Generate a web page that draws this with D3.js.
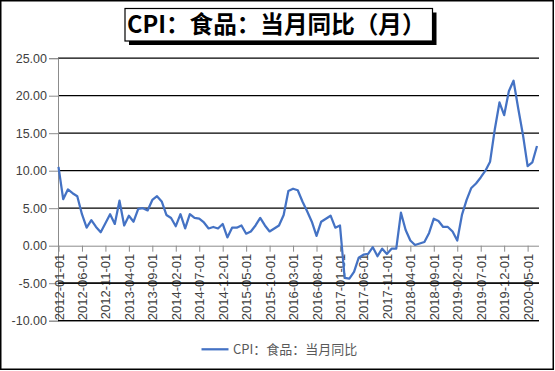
<!DOCTYPE html>
<html>
<head>
<meta charset="utf-8">
<script src="https://cdn.jsdelivr.net/npm/d3@7"></script>
<style>
  body { margin: 0; background: #fff; }
  svg { display: block; }
</style>
</head>
<body>
<svg id="chart" width="555" height="371"></svg>
<script>
// CPI food, yoy %, monthly from 2012-01 to 2020-07
const values = [
  10.5, 6.2, 7.5, 7.0, 6.6, 4.2, 2.4, 3.4, 2.5, 1.8, 3.0, 4.2,   // 2012
  2.9, 6.0, 2.7, 4.0, 3.2, 4.9, 5.0, 4.7, 6.1, 6.6, 5.9, 4.1,    // 2013
  3.7, 2.6, 4.2, 2.3, 4.2, 3.7, 3.6, 3.1, 2.3, 2.5, 2.3, 2.9,    // 2014
  1.1, 2.4, 2.4, 2.7, 1.6, 1.9, 2.7, 3.7, 2.7, 1.9, 2.3, 2.7,    // 2015
  4.1, 7.3, 7.6, 7.4, 5.9, 4.6, 3.2, 1.3, 3.2, 3.6, 4.0, 2.4,    // 2016
  2.7, -4.3, -4.4, -3.5, -1.6, -1.2, -1.1, -0.2, -1.4, -0.4, -1.1, -0.4, // 2017
  -0.4, 4.4, 2.1, 0.7, 0.1, 0.3, 0.5, 1.7, 3.6, 3.3, 2.5, 2.5,   // 2018
  1.9, 0.7, 4.1, 6.1, 7.7, 8.3, 9.1, 10.0, 11.2, 15.5, 19.1, 17.4, // 2019
  20.6, 22.0, 18.3, 14.8, 10.6, 11.1, 13.3                        // 2020
];
const xTickLabels = [
  "2012-01-01", "2012-06-01", "2012-11-01", "2013-04-01", "2013-09-01",
  "2014-02-01", "2014-07-01", "2014-12-01", "2015-05-01", "2015-10-01",
  "2016-03-01", "2016-08-01", "2017-01-01", "2017-06-01", "2017-11-01",
  "2018-04-01", "2018-09-01", "2019-02-01", "2019-07-01", "2019-12-01",
  "2020-05-01"
];
const yTicks = [-10, -5, 0, 5, 10, 15, 20, 25];
const title = "CPI：食品：当月同比（月）";
const seriesName = "CPI：食品：当月同比";

const fmt = d3.timeFormat("%Y-%m-%d");
const months = d3.timeMonth.range(new Date(2012, 0, 1), new Date(2020, 7, 1)).map(fmt);
const data = months.map((m, i) => ({month: m, value: values[i]}));

const svg = d3.select("#chart");
const axisColor = "#8c8c8c";
const textColor = "#404040";

// outer frame
svg.append("rect")
  .attr("x", 0.75).attr("y", 0.75).attr("width", 552.5).attr("height", 368.5)
  .attr("fill", "#fff").attr("stroke", "#000").attr("stroke-width", 1.5);

const xscale = d3.scalePoint().domain(months).range([58.5, 537]);
const yscale = d3.scaleLinear().domain([-10, 25]).range([320.7, 58.2]);
const gridRight = 539;

// gridlines
svg.append("g")
  .selectAll("line")
  .data(yTicks.filter(d => d !== 0))
  .enter()
  .append("line")
    .attr("x1", 58).attr("x2", gridRight)
    .attr("y1", d => yscale(d)).attr("y2", d => yscale(d))
    .attr("stroke", "#000").attr("stroke-width", 1.3);

// y axis
const yAxis = d3.axisLeft(yscale).tickValues(yTicks).tickSize(9).tickPadding(2)
  .tickFormat(d => d3.format(".2f")(d).replace("−", "-"));
const gy = svg.append("g").attr("transform", "translate(58,0)").call(yAxis);
gy.select(".domain").attr("stroke", axisColor);
gy.selectAll(".tick line").attr("stroke", axisColor);
gy.selectAll(".tick text")
  .attr("fill", textColor)
  .style("font-family", "'Liberation Sans', Arial, sans-serif")
  .style("font-size", "12.5px");

// x axis at zero
const xAxis = d3.axisBottom(xscale).tickValues(xTickLabels).tickSize(6).tickSizeOuter(0);
const gx = svg.append("g").attr("transform", "translate(0," + yscale(0) + ")").call(xAxis);
gx.select(".domain").attr("d", "M58," + 0.5 + "H" + gridRight).attr("stroke", axisColor);
gx.selectAll(".tick line").attr("stroke", axisColor);
gx.selectAll(".tick text")
  .attr("fill", textColor)
  .attr("transform", "rotate(-90)")
  .attr("text-anchor", "end")
  .attr("x", -8).attr("y", 0).attr("dy", "0.35em")
  .style("font-family", "'Liberation Sans', Arial, sans-serif")
  .style("font-size", "13px");

// redraw lower gridlines over labels, as in the picture
svg.append("g")
  .selectAll("line")
  .data(yTicks.filter(d => d < 0))
  .enter()
  .append("line")
    .attr("x1", 58).attr("x2", gridRight)
    .attr("y1", d => yscale(d)).attr("y2", d => yscale(d))
    .attr("stroke", "#000").attr("stroke-width", 1.3);

// series line
const line = d3.line().x(d => xscale(d.month)).y(d => yscale(d.value));
svg.append("path")
  .datum(data)
  .attr("d", line)
  .attr("fill", "none")
  .attr("stroke", "#4472c4")
  .attr("stroke-width", 2.25)
  .attr("stroke-linejoin", "round");

// title box with shadow
svg.append("rect").attr("x", 129).attr("y", 12.5).attr("width", 307.5).attr("height", 32.5).attr("fill", "#000");
svg.append("rect").attr("x", 125).attr("y", 8.5).attr("width", 307.5).attr("height", 32.5)
  .attr("fill", "#fff").attr("stroke", "#000").attr("stroke-width", 1.2);
svg.append("text")
  .attr("x", 127).attr("y", 33)
  .attr("fill", "#000")
  .style("font-family", "'Noto Sans CJK SC', sans-serif")
  .style("font-weight", "bold")
  .style("font-size", "23.6px")
  .text(title);

// legend
svg.append("line")
  .attr("x1", 201.5).attr("x2", 228.5).attr("y1", 349.3).attr("y2", 349.3)
  .attr("stroke", "#4472c4").attr("stroke-width", 2.25);
svg.append("text")
  .attr("x", 233).attr("y", 353.8)
  .attr("fill", "#595959")
  .style("font-family", "'Noto Sans CJK SC', sans-serif")
  .style("font-size", "13px")
  .text(seriesName);
</script>
</body>
</html>
